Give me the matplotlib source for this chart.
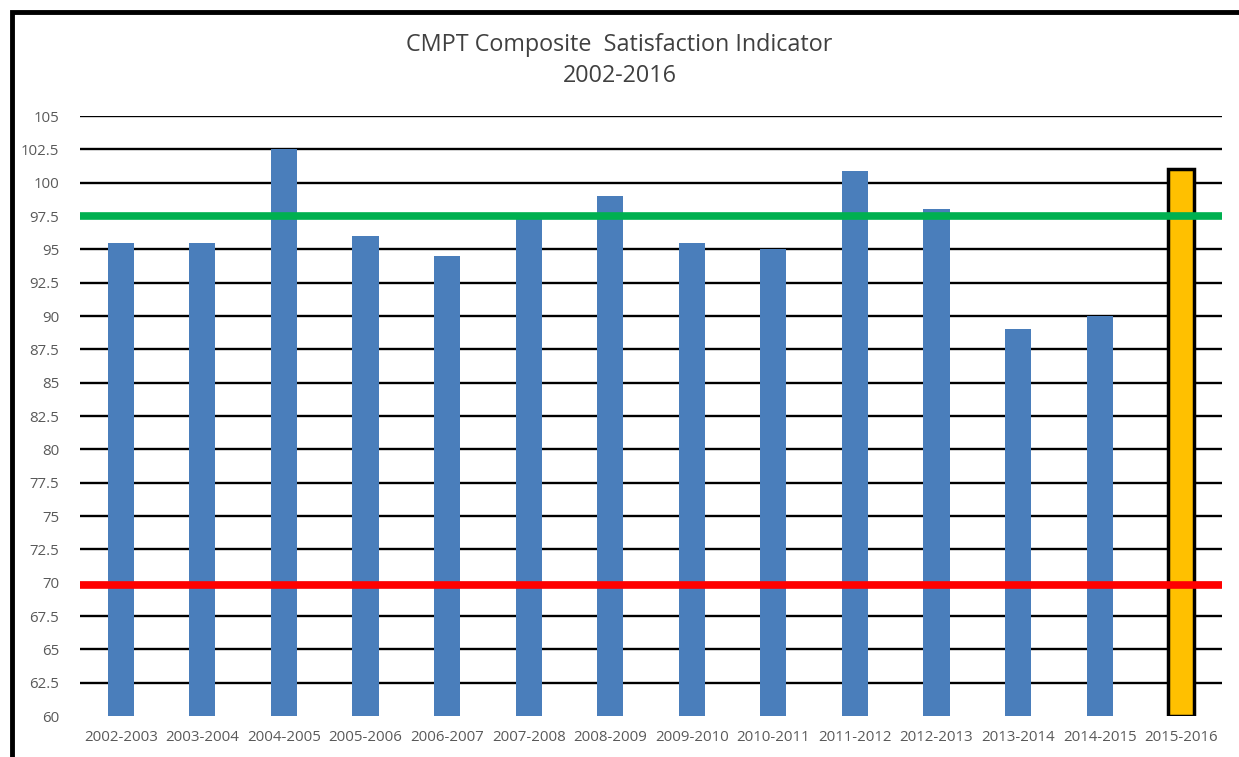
import numpy as np
import matplotlib.pyplot as plt
from matplotlib.patches import Rectangle

# -------------
# Chart data
# -------------
years = ["2002-2003", "2003-2004", "2004-2005", "2005-2006", "2006-2007",
         "2007-2008", "2008-2009", "2009-2010", "2010-2011", "2011-2012",
         "2012-2013", "2013-2014", "2014-2015", "2015-2016"]
scores = [95.5, 95.5, 102.5, 96, 94.5, 97.7, 99, 95.5, 95, 100.9, 98, 89, 90, 101]
target = 97.5
minimum = 69.8
yticks = [60, 62.5, 65, 67.5, 70, 72.5, 75, 77.5, 80, 82.5, 85, 87.5, 90,
          92.5, 95, 97.5, 100, 102.5, 105]

plt.rcParams['font.family'] = ['Open Sans', 'DejaVu Sans']

fig = plt.figure(figsize=(12.39, 7.57), dpi=100)
ax = fig.add_axes([80/1239, 41/757, 1142/1239, 600/757])

x = np.arange(len(years))
colors = ["#4a7ebb"] * (len(years) - 1) + ["#ffc000"]
edges = ["none"] * (len(years) - 1) + ["black"]
lws = [0] * (len(years) - 1) + [2.5]
ax.bar(x, np.array(scores) - 60, bottom=60, width=0.32, color=colors,
       edgecolor=edges, linewidth=lws, zorder=3)

# gridlines (no line at 60)
for v in yticks[1:]:
    ax.axhline(v, color="black", lw=1.7, zorder=1)

ax.axhline(target, color="#00b050", lw=5.5, zorder=4)
ax.axhline(minimum, color="#ff0000", lw=5.5, zorder=4)

ax.set_xlim(-0.5, len(years) - 0.5)
ax.set_ylim(60, 105)
ax.set_yticks(yticks)
ax.set_yticklabels([f"{v:g}" for v in yticks])
ax.set_xticks(x)
ax.set_xticklabels(years)
ax.tick_params(length=0, labelsize=10.8, colors="#595959", pad=10)
ax.tick_params(axis="y", pad=15)
for s in ax.spines.values():
    s.set_visible(False)

fig.text(0.5, 1 - 45/757, "CMPT Composite  Satisfaction Indicator", ha="center",
         va="center", fontsize=16.8, color="#404040")
fig.text(0.5, 1 - 76/757, "2002-2016", ha="center", va="center",
         fontsize=16.8, color="#404040")

# screenshot frame
fig.patches.append(Rectangle((12/1239, -0.1), 1.2, 1.1 - 12/757,
                             transform=fig.transFigure, fill=False,
                             edgecolor="black", lw=3.5))

fig.savefig("out.png", dpi=100)
